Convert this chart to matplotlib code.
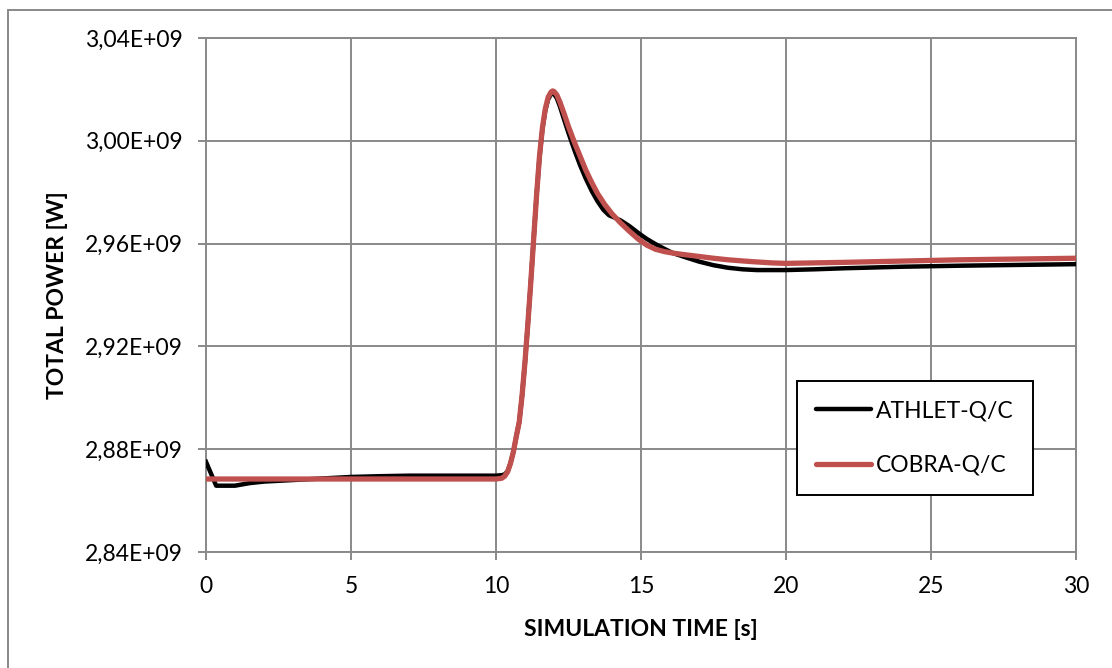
import matplotlib.pyplot as plt
import numpy as np
from matplotlib.patches import Rectangle
from matplotlib.ticker import FuncFormatter, MultipleLocator

plt.rcParams['font.family'] = ['Lato', 'DejaVu Sans']

# ATHLET-Q/C total power (time in s, power in 1E9 W)
t_athlet = [0, 0.35, 1.0, 1.5, 2, 3, 4, 5, 6, 7, 8, 9, 10, 10.2, 10.3, 10.4, 10.5,
            10.6, 10.7, 10.8, 10.9, 11.0, 11.1, 11.2, 11.3, 11.4, 11.5, 11.6, 11.7,
            11.8, 11.9, 11.95, 12.0, 12.1, 12.2, 12.35, 12.5, 12.7, 12.9, 13.1,
            13.3, 13.5, 13.7, 13.9, 14.05, 14.3, 14.6, 14.9, 15.2, 15.5, 15.8,
            16.1, 16.5, 17, 17.5, 18, 18.5, 19, 20, 21, 22, 24, 26, 28, 30]
p_athlet = [2.8751, 2.8658, 2.8658, 2.8668, 2.8674, 2.8680, 2.8686, 2.8692, 2.8695,
            2.8697, 2.8697, 2.8697, 2.8697, 2.8699, 2.8702, 2.8714, 2.8746,
            2.8790, 2.8850, 2.8905, 2.9010, 2.9140, 2.9290, 2.9450, 2.9620, 2.9790,
            2.9935, 3.0045, 3.0118, 3.0162, 3.0182, 3.0186, 3.0182, 3.0165, 3.0135,
            3.0082, 3.0030, 2.9965, 2.9905, 2.9852, 2.9805, 2.9765, 2.9732, 2.9710,
            2.9703, 2.9690, 2.9668, 2.9642, 2.9618, 2.9598, 2.9580, 2.9563, 2.9548,
            2.9530, 2.9516, 2.9506, 2.9500, 2.9497, 2.9497, 2.9500, 2.9504, 2.9510,
            2.9514, 2.9517, 2.9520]

# COBRA-Q/C total power
t_cobra = [0, 2, 4, 6, 8, 10, 10.2, 10.3, 10.4, 10.5, 10.6, 10.7, 10.8, 10.9, 11.0,
           11.1, 11.2, 11.3, 11.4, 11.5, 11.6, 11.7, 11.8, 11.9, 11.95, 12.0, 12.1,
           12.2, 12.35, 12.5, 12.7, 12.9, 13.1, 13.3, 13.5, 13.75, 14.0, 14.3,
           14.6, 14.9, 15.2, 15.5, 15.8, 16.1, 16.5, 17, 17.5, 18, 18.8, 19.5, 20,
           22, 24, 26, 28, 30]
p_cobra = [2.8684, 2.8684, 2.8684, 2.8684, 2.8684, 2.8684, 2.8687, 2.8695, 2.8712,
           2.8745, 2.8790, 2.8850, 2.8905, 2.9010, 2.9140, 2.9290, 2.9450, 2.9620,
           2.9790, 2.9940, 3.0050, 3.0125, 3.0170, 3.0190, 3.0194, 3.0192, 3.0178,
           3.0152, 3.0105, 3.0055, 2.9995, 2.9940, 2.9885, 2.9838, 2.9795, 2.9752,
           2.9716, 2.9680, 2.9648, 2.9618, 2.9594, 2.9578, 2.9569, 2.9563, 2.9557,
           2.9550, 2.9543, 2.9537, 2.9530, 2.9525, 2.9523, 2.9527, 2.9532, 2.9537,
           2.9540, 2.9543]

fig = plt.figure(figsize=(11.12, 6.68), dpi=100)
ax = fig.add_axes([206 / 1112, 1 - 552 / 668, 870 / 1112, 514 / 668])

grid_col = '#898989'
ax.plot(t_athlet, np.array(p_athlet) * 1e9, color='black', lw=3.2,
        solid_joinstyle='round', label='ATHLET-Q/C', zorder=3)
ax.plot(t_cobra, np.array(p_cobra) * 1e9, color='#C0504D', lw=3.8,
        solid_joinstyle='round', label='COBRA-Q/C', zorder=4)

ax.set_xlim(0, 30)
ax.set_ylim(2.84e9, 3.04e9)
ax.xaxis.set_major_locator(MultipleLocator(5))
ax.yaxis.set_major_locator(MultipleLocator(0.04e9))
ax.yaxis.set_major_formatter(FuncFormatter(lambda v, p: f'{v:.2E}'.replace('.', ',')))
ax.grid(True, color=grid_col, lw=1.4)
ax.set_axisbelow(True)
for s in ax.spines.values():
    s.set_color(grid_col)
    s.set_linewidth(1.4)
ax.tick_params(direction='out', length=6, width=1.4, color=grid_col,
               labelsize=16.5, labelcolor='black')
ax.tick_params(axis='y', pad=11)
ax.tick_params(axis='x', pad=11)

ax.set_xlabel('SIMULATION TIME [s]', fontsize=16.5, fontweight='bold', labelpad=16)
ax.set_ylabel('TOTAL POWER [W]', fontsize=16.5, fontweight='bold', labelpad=12)

leg = ax.legend(loc='upper left', bbox_to_anchor=(797 / 1112, 1 - 381 / 668),
                bbox_transform=fig.transFigure, fontsize=16.5, handlelength=2.4,
                handletextpad=0.2, labelspacing=1.45, borderpad=0.85,
                fancybox=False, framealpha=1, borderaxespad=0)
leg.get_frame().set_edgecolor('black')
leg.get_frame().set_linewidth(1.4)
for h in leg.get_lines():
    h.set_solid_capstyle('round')

fig.add_artist(Rectangle((8 / 1112, -0.1), 1.2, 1.1 - 10 / 668, transform=fig.transFigure,
                         fill=False, edgecolor=grid_col, lw=1.4))

fig.savefig('out.png', dpi=100)
